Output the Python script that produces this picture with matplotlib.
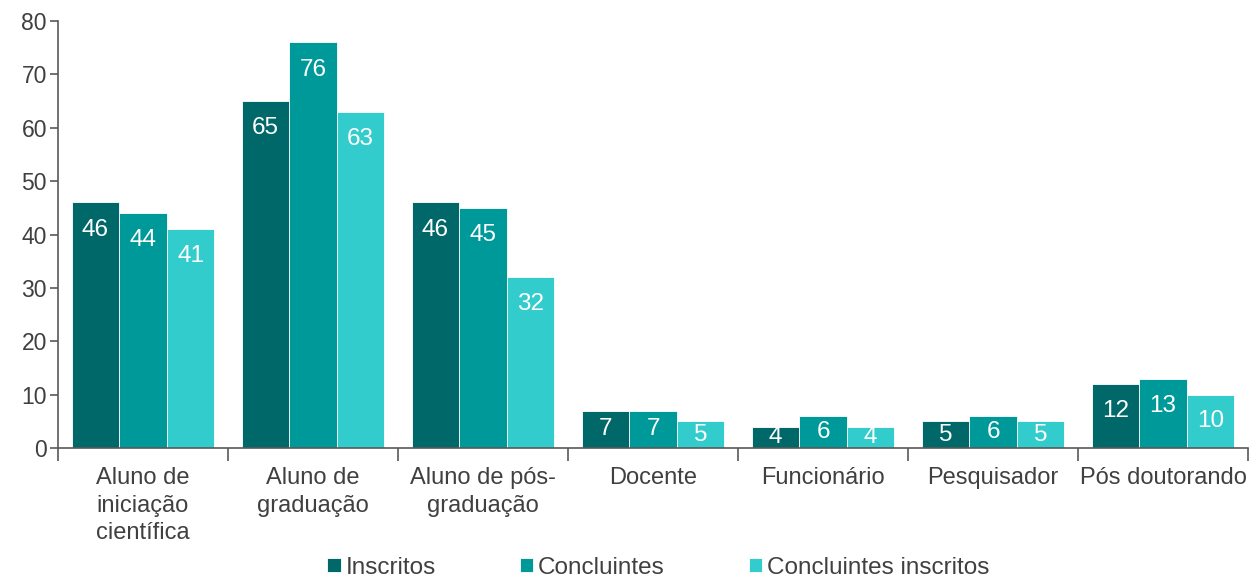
import matplotlib
matplotlib.use("Agg")
import matplotlib.pyplot as plt
import numpy as np

plt.rcParams["font.family"] = ["Liberation Sans", "DejaVu Sans"]

categories = ["Aluno de\niniciação\ncientífica", "Aluno de\ngraduação", "Aluno de pós-\ngraduação",
              "Docente", "Funcionário", "Pesquisador", "Pós doutorando"]
series_names = ["Inscritos", "Concluintes", "Concluintes inscritos"]
inscritos = [46, 65, 46, 7, 4, 5, 12]
concluintes = [44, 76, 45, 7, 6, 6, 13]
concl_inscritos = [41, 63, 32, 5, 4, 5, 10]
yticks = [0, 10, 20, 30, 40, 50, 60, 70, 80]

colors = ["#006868", "#009999", "#33CCCC"]
text_col = "#404040"
axis_col = "#595959"

fig = plt.figure(figsize=(12.49, 5.78), dpi=100)
ax = fig.add_axes([58/1249, 1 - 448/578, 1190/1249, 427/578])

x = np.arange(len(categories)) + 0.5
w = 0.28
for k, (vals, col, name) in enumerate(zip([inscritos, concluintes, concl_inscritos], colors, series_names)):
    xs = x + (k - 1) * w
    ax.bar(xs, vals, width=w, color=col, edgecolor="white", linewidth=0.6, label=name)
    for xi, v in zip(xs, vals):
        off = min(5.1, v / 2)
        ax.text(xi, v - off, str(v), ha="center", va="center", color="white", fontsize=17.5)

ax.set_xlim(0, len(categories))
ax.set_ylim(0, 80)
ax.set_yticks(yticks)
ax.set_yticklabels([str(t) for t in yticks], fontsize=16.5, color=text_col)
ax.set_xticks(np.arange(len(categories) + 1))
ax.set_xticklabels([])
ax.set_xticks(x, minor=True)
ax.set_xticklabels(categories, minor=True, fontsize=17, color=text_col, linespacing=1.3)
ax.tick_params(axis="x", which="major", length=9, direction="out", color=axis_col, width=1.2)
ax.tick_params(axis="x", which="minor", length=0, pad=14)
ax.tick_params(axis="y", length=6, direction="out", color=axis_col, width=1.2, pad=2)

for s in ["top", "right"]:
    ax.spines[s].set_visible(False)
for s in ["left", "bottom"]:
    ax.spines[s].set_color(axis_col)
    ax.spines[s].set_linewidth(1.2)

fig.legend(loc="center", bbox_to_anchor=(0.527, 0.018), ncol=3, frameon=False,
           fontsize=17.5, handlelength=0.55, handleheight=0.55, handletextpad=0.2,
           columnspacing=3.45, labelcolor=text_col)

fig.savefig("out.png", dpi=100)
